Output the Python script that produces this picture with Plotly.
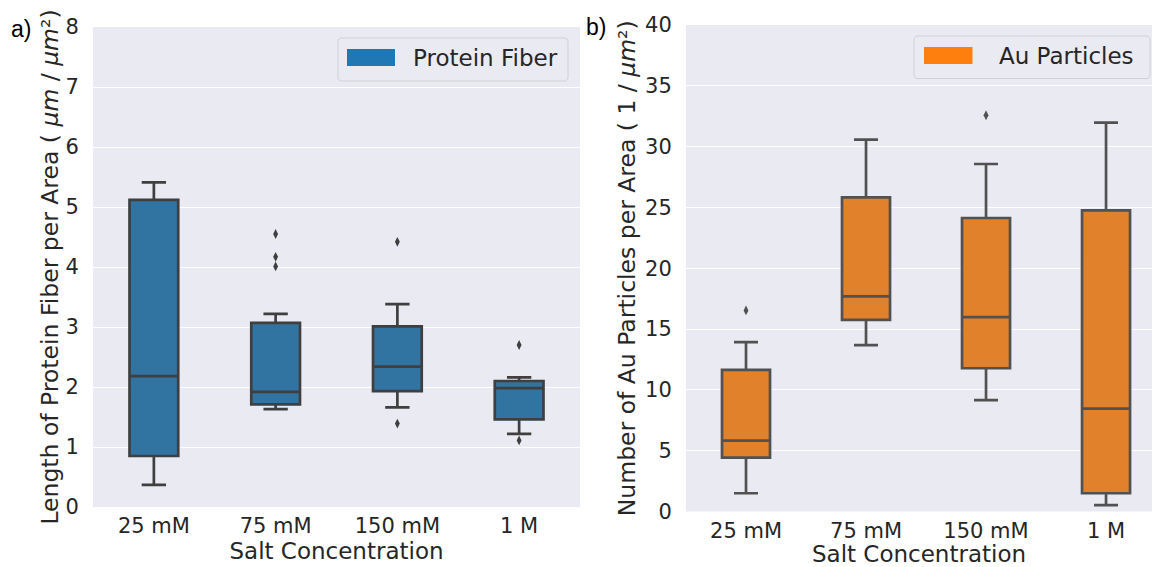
import plotly.graph_objects as go

# ---------------- data ----------------
categories = ["25 mM", "75 mM", "150 mM", "1 M"]

# a) Length of protein fiber per area
fiber_lower = [0.37, 1.63, 1.66, 1.22]
fiber_q1 = [0.85, 1.71, 1.93, 1.46]
fiber_median = [2.18, 1.92, 2.34, 1.98]
fiber_q3 = [5.12, 3.07, 3.01, 2.10]
fiber_upper = [5.41, 3.22, 3.38, 2.16]
fiber_out_cat = ["75 mM", "75 mM", "75 mM", "150 mM", "150 mM", "1 M", "1 M"]
fiber_out_val = [4.55, 4.17, 4.01, 4.42, 1.39, 2.70, 1.11]

# b) Number of Au particles per area
au_lower = [1.50, 13.68, 9.15, 0.53]
au_q1 = [4.43, 15.76, 11.78, 1.50]
au_median = [5.83, 17.68, 15.98, 8.46]
au_q3 = [11.65, 25.83, 24.13, 24.76]
au_upper = [13.92, 30.58, 28.57, 31.97]
au_out_cat = ["25 mM", "150 mM"]
au_out_val = [16.53, 32.58]

fiber_ticks = list(range(0, 9))
au_ticks = list(range(0, 41, 5))

# ---------------- styling ----------------
W, H = 1152, 567
BG = "#eaeaf2"
TXT = "#262626"
FONT = "DejaVu Sans"
BLUE_FILL, BLUE_LINE, BLUE_PATCH = "#3274a1", "#3f3f3f", "#1f77b4"
ORANGE_FILL, ORANGE_LINE, ORANGE_PATCH = "#e1812c", "#515151", "#ff7f0e"


def px(x):
    return x / W


def py(y):
    return 1 - y / H


fig = go.Figure()

fig.add_trace(go.Box(
    x=categories, q1=fiber_q1, median=fiber_median, q3=fiber_q3,
    lowerfence=fiber_lower, upperfence=fiber_upper,
    fillcolor=BLUE_FILL, line=dict(color=BLUE_LINE, width=2.7),
    width=0.4, whiskerwidth=0.5, boxpoints=False, name="Protein Fiber",
    showlegend=False, xaxis="x", yaxis="y"))
fig.add_trace(go.Scatter(
    x=fiber_out_cat, y=fiber_out_val, mode="markers",
    marker=dict(symbol="diamond-tall", size=7, color=BLUE_LINE),
    showlegend=False, xaxis="x", yaxis="y"))

fig.add_trace(go.Box(
    x=categories, q1=au_q1, median=au_median, q3=au_q3,
    lowerfence=au_lower, upperfence=au_upper,
    fillcolor=ORANGE_FILL, line=dict(color=ORANGE_LINE, width=2.7),
    width=0.4, whiskerwidth=0.5, boxpoints=False, name="Au Particles",
    showlegend=False, xaxis="x2", yaxis="y2"))
fig.add_trace(go.Scatter(
    x=au_out_cat, y=au_out_val, mode="markers",
    marker=dict(symbol="diamond-tall", size=7, color=ORANGE_LINE),
    showlegend=False, xaxis="x2", yaxis="y2"))

xcommon = dict(
    type="category", categoryorder="array", categoryarray=categories,
    showgrid=False, zeroline=False, showline=False, automargin=False,
    ticks="outside", ticklen=0, tickcolor="rgba(0,0,0,0)",
    tickfont=dict(family=FONT, size=21, color=TXT),
    title=dict(text="Salt Concentration", font=dict(family=FONT, size=23, color=TXT), standoff=0),
)
ycommon = dict(
    showgrid=True, gridcolor="white", gridwidth=1.3, automargin=False,
    zeroline=False, showline=False,
    ticks="outside", ticklen=9, tickcolor="rgba(0,0,0,0)",
    tickfont=dict(family=FONT, size=21, color=TXT),
)

fig.update_layout(
    width=W, height=H,
    margin=dict(l=0, r=0, t=0, b=0, pad=0, autoexpand=False),
    paper_bgcolor="white",
    plot_bgcolor=BG,
    showlegend=False,
    xaxis=dict(xcommon, domain=[px(93), px(580)], range=[-0.5, 3.5], anchor="y"),
    yaxis=dict(ycommon, domain=[py(507), py(27)], range=[0, 8],
               tickvals=fiber_ticks, anchor="x",
               title=dict(text="Length of Protein Fiber per Area ( <i>μm</i> / <i>μm</i>²)",
                          font=dict(family=FONT, size=23.5, color=TXT), standoff=0)),
    xaxis2=dict(xcommon, domain=[px(686), 1.0], range=[-0.5, 3.383], anchor="y2"),
    yaxis2=dict(ycommon, domain=[py(511.5), py(25)], range=[0, 40],
                tickvals=au_ticks, anchor="x2",
                title=dict(text="Number of Au Particles per Area ( 1 / <i>μm</i>²)",
                           font=dict(family=FONT, size=23.5, color=TXT), standoff=2)),
)


def rounded_rect(x0, y0, x1, y1, r=4):
    # pixel coords -> paper path with rounded corners
    X = lambda v: f"{px(v):.6f}"
    Y = lambda v: f"{py(v):.6f}"
    return (f"M{X(x0 + r)},{Y(y0)} L{X(x1 - r)},{Y(y0)} Q{X(x1)},{Y(y0)} {X(x1)},{Y(y0 + r)} "
            f"L{X(x1)},{Y(y1 - r)} Q{X(x1)},{Y(y1)} {X(x1 - r)},{Y(y1)} "
            f"L{X(x0 + r)},{Y(y1)} Q{X(x0)},{Y(y1)} {X(x0)},{Y(y1 - r)} "
            f"L{X(x0)},{Y(y0 + r)} Q{X(x0)},{Y(y0)} {X(x0 + r)},{Y(y0)} Z")


shapes = []
annotations = []
legends = [
    # frame (x0,y0,x1,y1), patch (x0,y0,x1,y1), text x, text y, label, color
    ((338, 38, 568, 81), (347, 49, 395, 66), 411, 58, "Protein Fiber", BLUE_PATCH),
    ((914, 36, 1150, 78.5), (924, 47, 972.5, 64), 997, 56, "Au Particles", ORANGE_PATCH),
]
for frame, patch, tx, ty, label, col in legends:
    shapes.append(dict(type="path", xref="paper", yref="paper", path=rounded_rect(*frame),
                       fillcolor=BG, line=dict(color="#d0d0d6", width=1), layer="above"))
    shapes.append(dict(type="rect", xref="paper", yref="paper",
                       x0=px(patch[0]), x1=px(patch[2]), y0=py(patch[3]), y1=py(patch[1]),
                       fillcolor=col, line=dict(width=0), layer="above"))
    annotations.append(dict(xref="paper", yref="paper", x=px(tx), y=py(ty), text=label,
                            xanchor="left", yanchor="middle", showarrow=False,
                            font=dict(family=FONT, size=23, color=TXT)))

annotations.append(dict(xref="paper", yref="paper", x=px(9), y=py(29), text="a)",
                        xanchor="left", yanchor="middle", showarrow=False,
                        font=dict(family="Liberation Sans", size=23, color="black")))
annotations.append(dict(xref="paper", yref="paper", x=px(584), y=py(27), text="b)",
                        xanchor="left", yanchor="middle", showarrow=False,
                        font=dict(family="Liberation Sans", size=23, color="black")))

fig.update_layout(shapes=shapes, annotations=annotations)

fig.write_html("out.html")
